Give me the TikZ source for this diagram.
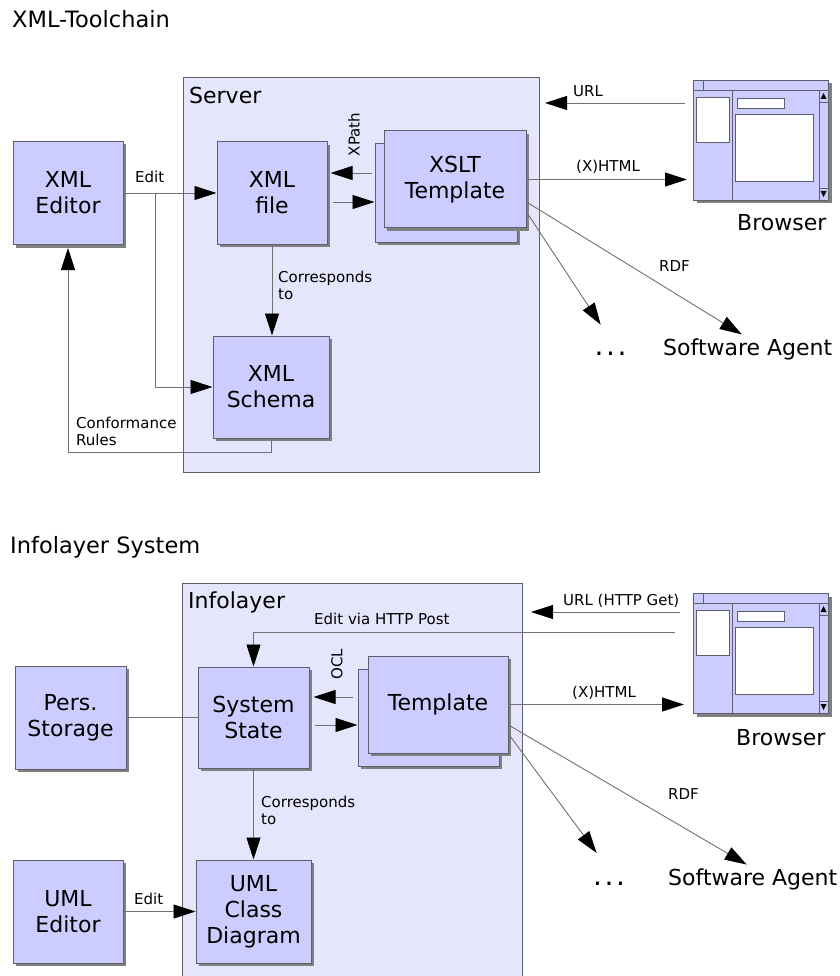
\documentclass[tikz,border=0pt]{standalone}
\usepackage{fontspec}
\setmainfont{DejaVu Sans}
\usetikzlibrary{arrows.meta,shadows}

\definecolor{boxfill}{HTML}{CCCCFF}
\definecolor{contfill}{HTML}{E5E5FB}
\definecolor{boxline}{HTML}{5F5F6B}
\definecolor{linegray}{HTML}{707070}
\definecolor{shadowgray}{HTML}{808080}

% two-line label whose baseline is the first line
\newcommand\lblstack[2]{\begin{tabular}[t]{@{}l@{}}#1\\#2\end{tabular}}
\newcommand\dotsrow{{\fontsize{28}{30}\selectfont .\hspace{2.6pt}.\hspace{2.6pt}.}}

\tikzset{
  myshadow/.style={drop shadow={shadow xshift=3pt,shadow yshift=-3pt,fill=shadowgray,opacity=1}},
  box/.style={draw=boxline, fill=boxfill, line width=1pt, inner sep=0pt, align=center,
    font=\fontsize{22}{26}\selectfont, myshadow},
  container/.style={draw=boxline, fill=contfill, line width=1pt, inner sep=0pt},
  conn/.style={draw=linegray, line width=0.9pt},
  arr/.style={conn, -{Triangle[length=22pt,width=14pt,color=black]}},
  lbl/.style={font=\fontsize{15}{17.5}\selectfont, inner sep=0pt, anchor=base west},
  big/.style={font=\fontsize{22}{26}\selectfont, inner sep=0pt, anchor=base west},
  title/.style={font=\fontsize{22.5}{26}\selectfont, inner sep=0pt, anchor=base west},
  win/.style={draw=boxline, fill=boxfill, line width=1pt, inner sep=0pt, myshadow},
  winline/.style={draw=boxline, line width=0.9pt},
  winpane/.style={draw=boxline, fill=white, line width=0.9pt},
  % browser window icon, placed by its top left corner
  browser/.pic={
    \node[win, anchor=north west, minimum width=135pt, minimum height=120pt] (-win) at (0,0) {};
    \draw[winline] (0,10) -- (135,10);
    \draw[winline] (10,0) -- (10,10);
    \draw[winline] (39,10) -- (39,120);
    \draw[winline] (126,10) -- (126,120);
    \draw[winline] (126,22) -- (135,22);
    \draw[winline] (126,108) -- (135,108);
    \fill[black] (127.5,19) -- (133.5,19) -- (130.5,13) -- cycle;
    \fill[black] (127.5,111) -- (133.5,111) -- (130.5,117) -- cycle;
    \draw[winpane] (3,17) rectangle (36,62);
    \draw[winpane] (44,18) rectangle (91,28);
    \draw[winpane] (42,34) rectangle (120,101);
  }
}

\begin{document}
\begin{tikzpicture}[x=1pt,y=-1pt]
\useasboundingbox (0,0) rectangle (839,976);

% ---------- XML tool chain ----------
\node[title] (t1) at (12,28) {XML-Toolchain};

\node[container, anchor=north west, minimum width=356pt, minimum height=395pt] (server) at (183,77) {};
\node[big] (serverlbl) at (189,104) {Server};

\node[box, minimum width=110pt, minimum height=103pt] (xmled) at (68,193) {XML\\Editor};
\node[box, minimum width=110pt, minimum height=102pt] (xmlfile) at (272,193) {XML\\file};
\node[box, minimum width=142pt, minimum height=98pt] (xsltb) at (446,193) {};
\node[box, minimum width=142pt, minimum height=97pt] (xsltf) at (455,179.5) {XSLT\\Template};
\node[box, minimum width=116pt, minimum height=102pt] (schema) at (271,387) {XML\\Schema};

\pic (b1) at (693,80) {browser};
\node[big] (b1lbl) at (737,231) {Browser};
\node[big] (agent1) at (663,355) {Software Agent};
\node[big, text height=15pt] (dots1) at (594.5,355) {\dotsrow};

\draw[arr] (xmled.east) -- (xmlfile.west);
\node[lbl] (edit1) at (135,183) {Edit};
\coordinate (ej) at (155,193);
\draw[arr] (ej) |- (schema.west);
\coordinate (cr) at (68,452);
\draw[arr, shorten >=3pt] (schema.south) |- (cr) -- (xmled.south);
\node[lbl] (conf) at (76,428) {\lblstack{Conformance}{Rules}};
\draw[arr] (xmlfile.south) -- (xmlfile.south |- schema.north);
\node[lbl] (corr1) at (278,282) {\lblstack{Corresponds}{to}};
\draw[arr, shorten <=3pt, shorten >=3pt] (xsltb.west |- 0,173) -- (xmlfile.east |- 0,173);
\node[lbl, rotate=90, anchor=center] (xpath) at (354,134.5) {XPath};
\draw[arr, shorten <=5pt] (xmlfile.east |- 0,202) -- (xsltb.west |- 0,202);
\draw[arr, shorten >=6pt] (xsltf.east) -- (b1-win.west |- xsltf.east);
\node[lbl] (html1) at (576,172) {(X)HTML};
\draw[arr, shorten <=8pt, shorten >=5pt] (b1-win.west |- 0,103) -- (server.east |- 0,103);
\node[lbl] (url1) at (573,97) {URL};
\draw[arr, shorten >=7pt] (xsltf.east |- 0,202) -- (agent1.north);
\node[lbl] (rdf1) at (659,271) {RDF};
\draw[arr, shorten >=18pt] (xsltf.east |- 0,212) -- (dots1.north);

% ---------- Infolayer system ----------
\node[title] (t2) at (10,553) {Infolayer System};

\node[container, anchor=north west, minimum width=340pt, minimum height=420pt] (infolayer) at (182,583) {};
\node[big] (infolbl) at (188,608) {Infolayer};

\node[box, minimum width=111pt, minimum height=103pt] (pers) at (70.5,717.5) {Pers.\\Storage};
\node[box, minimum width=111pt, minimum height=101pt] (sys) at (253.5,717.5) {System\\State};
\node[box, minimum width=141pt, minimum height=97pt] (tplb) at (428.5,717.5) {};
\node[box, minimum width=140pt, minimum height=97pt] (tplf) at (438,704.5) {Template};
\node[box, minimum width=110pt, minimum height=103pt] (umled) at (68,911.5) {UML\\Editor};
\node[box, minimum width=115pt, minimum height=103pt] (uml) at (253.5,911.5) {UML\\Class\\Diagram};

\pic (b2) at (693,593) {browser};
\node[big] (b2lbl) at (736,745) {Browser};
\node[big] (agent2) at (668,885) {Software Agent};
\node[big, text height=15pt] (dots2) at (593,885) {\dotsrow};

\draw[conn] (pers.east) -- (sys.west);
\draw[arr, shorten <=18pt] (b2-win.west |- 0,632) -| (sys.north);
\node[lbl] (post) at (314,624) {Edit via HTTP Post};
\draw[arr, shorten <=13pt, shorten >=8pt] (b2-win.west |- 0,612) -- (infolayer.east |- 0,612);
\node[lbl] (url2) at (563,605) {URL (HTTP Get)};
\draw[arr, shorten <=5pt, shorten >=4pt] (tplb.west |- 0,697) -- (sys.east |- 0,697);
\node[lbl, rotate=90, anchor=center] (ocl) at (337,664) {OCL};
\draw[arr, shorten <=5pt] (sys.east |- 0,725) -- (tplb.west |- 0,725);
\draw[arr, shorten >=9pt] (tplf.east) -- (b2-win.west |- tplf.east);
\node[lbl] (html2) at (572,697) {(X)HTML};
\draw[arr, shorten >=7pt] (tplf.east |- 0,725) -- (agent2.north);
\node[lbl] (rdf2) at (668,799) {RDF};
\draw[arr, shorten >=21pt] (tplf.east |- 0,734) -- (dots2.north);
\draw[arr] (sys.south) -- (uml.north);
\node[lbl] (corr2) at (261,807) {\lblstack{Corresponds}{to}};
\draw[arr] (umled.east) -- (uml.west);
\node[lbl] (edit2) at (134,904) {Edit};
\end{tikzpicture}
\end{document}
